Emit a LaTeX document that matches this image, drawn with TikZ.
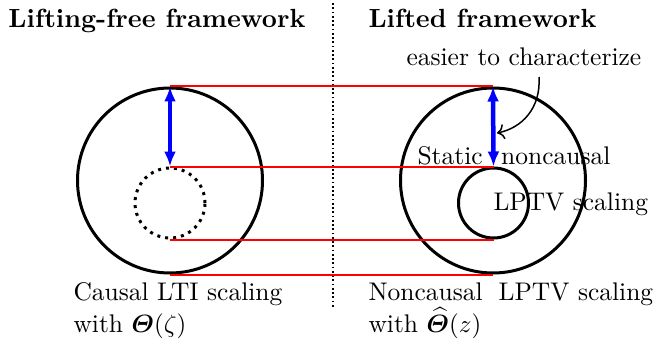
\documentclass[tikz,border=0pt]{standalone}
\usepackage{amsmath,bm}
\usetikzlibrary{arrows.meta}
\begin{document}
\begin{tikzpicture}[x=0.4pt,y=-0.4pt,
  ring/.style={circle,draw=black,line width=1.2pt,inner sep=0pt},
  bigring/.style={ring,minimum size=74pt},
  smallring/.style={ring,minimum size=28pt},
  redline/.style={red,line width=0.8pt},
  bluearrow/.style={blue,line width=1.8pt,{Latex[length=6pt,width=4.8pt]}-{Latex[length=6pt,width=4.8pt]}},
  lbl/.style={anchor=base west,inner sep=0pt,font=\fontsize{10.2}{12.8}\selectfont},
  blbl/.style={anchor=base west,inner sep=0pt,font=\fontsize{10.5}{12.8}\selectfont\bfseries}
]
\useasboundingbox (0,0) rectangle (654,340);
% divider
\draw[densely dotted,line width=0.7pt] (333,3) coordinate (d1) -- (333,307) coordinate (d2);
% circles
\node[bigring] (L) at (170,180.5) {};
\node[smallring,dotted] (Ls) at (170,203) {};
\node[bigring] (R) at (493,180.5) {};
\node[smallring] (Rs) at (493.5,203) {};
% labels
\node[blbl] (t1) at (8,27) {Lifting-free framework};
\node[blbl] (t2) at (368,27) {Lifted framework};
\node[lbl] (E) at (406,65) {easier to characterize};
\node[lbl] (S) at (417,164) {Static\hspace{4pt} noncausal};
\node[lbl] (P) at (493,210) {LPTV scaling};
\node[lbl,align=left] (C) at (73,332) {Causal LTI scaling\\with $\bm{\varTheta}(\zeta)$};
\node[lbl,align=left] (N) at (368,332) {Noncausal\hspace{3pt} LPTV scaling\\with $\widehat{\bm{\varTheta}}(z)$};
% red lines
\draw[redline] (L.north) -- (R.north);
\draw[redline] (Ls.north) -- (Rs.north);
\draw[redline] (Ls.south) -- (Rs.south);
\draw[redline] (L.south) -- (R.south);
% blue arrows
\draw[bluearrow] (L.north) -- (Ls.north);
\draw[bluearrow] (R.north) -- (Rs.north);
% curved arrow
\coordinate (c0) at (539,77);
\coordinate (c1) at (497,133);
\draw[->,line width=0.6pt] (c0) .. controls (541,108) and (522,128) .. (c1);
\end{tikzpicture}
\end{document}
